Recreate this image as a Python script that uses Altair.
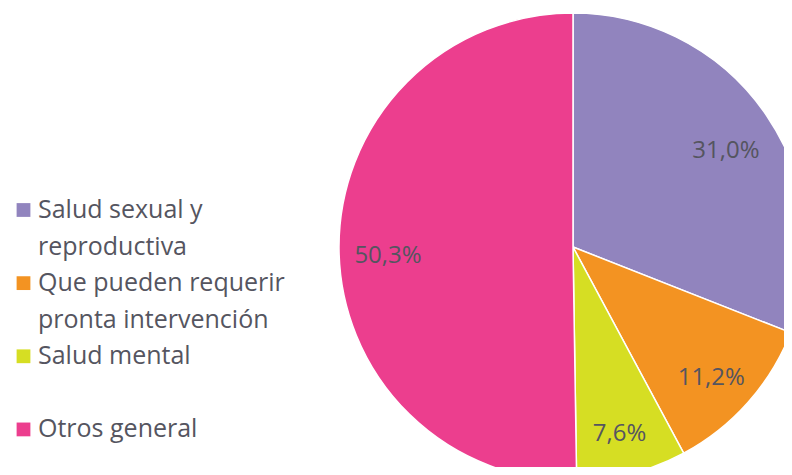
import altair as alt
import pandas as pd

# ---- datos ----
categorias = [
    "Salud sexual y reproductiva",
    "Que pueden requerir pronta intervención",
    "Salud mental",
    "Otros general",
]
porcentajes = [31.0, 11.2, 7.6, 50.3]
colores = ["#9184BE", "#F39322", "#D6DE23", "#EC3E8E"]
leyenda_lineas = [
    ["Salud sexual y", "reproductiva"],
    ["Que pueden requerir", "pronta intervención"],
    ["Salud mental", ""],
    ["Otros general", ""],
]

pie_df = pd.DataFrame({
    "categoria": categorias,
    "valor": porcentajes,
    "orden": list(range(len(categorias))),
})
pie_df["etiqueta"] = [f"{v:.1f}".replace(".", ",") + "%" for v in porcentajes]

filas = []
for i, (cat, lineas) in enumerate(zip(categorias, leyenda_lineas)):
    for j, t in enumerate(lineas):
        filas.append({"categoria": cat, "texto": t, "fila": 2 * i + j, "primera": j == 0})
leg_df = pd.DataFrame(filas)

color = alt.Color("categoria:N", scale=alt.Scale(domain=categorias, range=colores), legend=None)
CX, CY = 565, 239
texto_color = "#555560"

base = alt.Chart(pie_df).encode(
    theta=alt.Theta("valor:Q", stack=True),
    order=alt.Order("orden:Q"),
    x=alt.value(CX),
    y=alt.value(CY),
)
arcos = base.mark_arc(outerRadius=234, stroke="white", strokeWidth=1.5).encode(color=color)
etiquetas = base.mark_text(
    radius=185, dy=8, fontSize=24, font="Open Sans", color=texto_color
).encode(text="etiqueta:N")

escala_y = alt.Scale(domain=[0, 7], range=[202, 458])
cuadros = alt.Chart(leg_df).transform_filter("datum.primera").mark_square(
    size=190, opacity=1
).encode(
    x=alt.value(15.5),
    y=alt.Y("fila:Q", scale=escala_y, axis=None),
    color=color,
)
textos = alt.Chart(leg_df).mark_text(
    align="left", baseline="middle", fontSize=25, font="Open Sans", color=texto_color
).encode(
    x=alt.value(30),
    y=alt.Y("fila:Q", scale=escala_y, axis=None),
    text="texto:N",
)

chart = alt.layer(arcos, etiquetas, cuadros, textos).properties(
    width=776, height=459, padding=0, autosize="none", background="white"
).configure_view(stroke=None)

chart.save("out.html", embed_options={"renderer": "svg", "actions": False})
